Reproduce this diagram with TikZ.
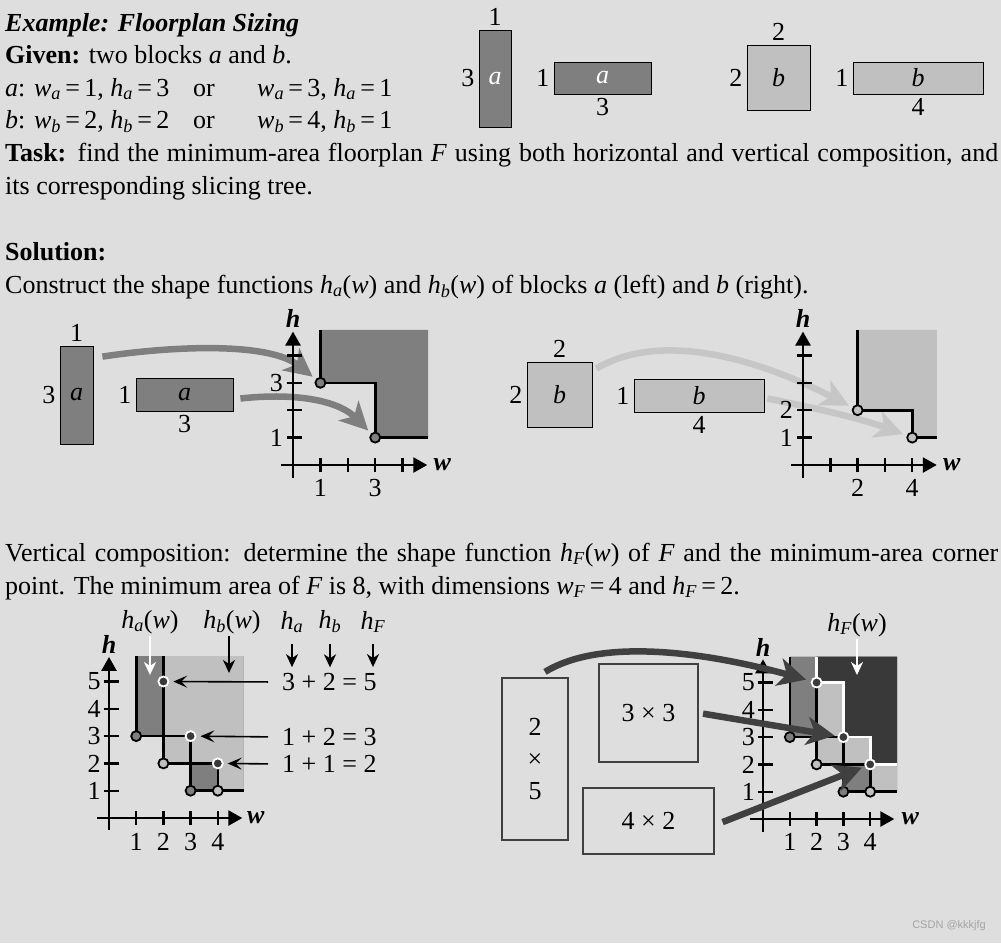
\documentclass[tikz,border=0pt]{standalone}
\usepackage{fontspec}
\setmainfont{Liberation Serif}
\newfontfamily\wmfont{Liberation Sans}
\usepackage{tikz}
\usetikzlibrary{arrows.meta,positioning,calc}
\pgfdeclarelayer{paper}
\pgfdeclarelayer{under}
\pgfsetlayers{paper,under,main}
\definecolor{bgpage}{HTML}{DEDEDE}
\definecolor{agray}{HTML}{7F7F7F}
\definecolor{bgray}{HTML}{C0C0C0}
\definecolor{fgray}{HTML}{393939}
\definecolor{ink}{HTML}{404040}
\definecolor{lgarr}{HTML}{C6C6C6}
\definecolor{wmgray}{HTML}{A4A4A4}
\newcommand{\vsub}[2]{\textit{#1}\textsubscript{\textit{#2}}}
\newcommand{\eqs}{\,=\,}

\begin{document}
\begin{tikzpicture}[x=1pt, y=-1pt, font=\fontsize{26pt}{33pt}\selectfont,
  txt/.style={anchor=base west, inner sep=0pt},
  blk/.style={draw=black, line width=0.8pt, inner sep=0pt, font=\fontsize{26pt}{33pt}\selectfont\itshape},
  blka/.style={blk, fill=agray},
  blkb/.style={blk, fill=bgray},
  every label/.style={inner sep=3pt, font=\fontsize{26pt}{33pt}\selectfont},
  label distance=1pt,
  ax/.style={line width=2.6pt, -{Triangle[length=14pt,width=15pt]}},
  axl/.style={inner sep=0pt, font=\fontsize{26pt}{33pt}\selectfont\bfseries\itshape},
  tk/.style={line width=2.4pt},
  tl/.style={inner sep=0pt},
  stair/.style={line width=2.6pt},
  crn/.style={circle, draw=black, line width=1.8pt, minimum size=10pt, inner sep=0pt},
  fcrn/.style={crn, draw=white, fill=fgray},
  garr/.style={line width=6.5pt, -{Stealth[length=28pt,width=28pt,inset=8pt]}},
  earr/.style={line width=1.6pt, -{Stealth[length=14pt,width=12pt,inset=6pt]}},
  varr/.style={line width=2.2pt, -{Stealth[length=13pt,width=12pt,inset=4pt]}},
  hlab/.style={inner sep=2pt},
  sizebox/.style={draw=ink, line width=2.2pt, inner sep=0pt, align=center}]

  \begin{pgfonlayer}{paper}
    \fill[bgpage] (0,0) rectangle (1001,943);
  \end{pgfonlayer}
  \useasboundingbox (0,0) rectangle (1001,943);

  % problem statement
  \node[txt] (title) at (5,31) {\textbf{\textit{Example: Floorplan Sizing}}};
  \node[txt] (given) at (5,63) {\textbf{Given:} two blocks \textit{a} and \textit{b}.};
  \node[txt] (ga1) at (5,96) {\textit{a}: \vsub{w}{a}\eqs 1, \vsub{h}{a}\eqs 3};
  \node[txt] (ga2) at (193,96) {or};
  \node[txt] (ga3) at (257,96) {\vsub{w}{a}\eqs 3, \vsub{h}{a}\eqs 1};
  \node[txt] (gb1) at (5,128) {\textit{b}: \vsub{w}{b}\eqs 2, \vsub{h}{b}\eqs 2};
  \node[txt] (gb2) at (193,128) {or};
  \node[txt] (gb3) at (257,128) {\vsub{w}{b}\eqs 4, \vsub{h}{b}\eqs 1};
  \node[txt] (task1) at (5,161) {\makebox[993pt][s]{\textbf{Task:} find the minimum-area floorplan \textit{F} using both horizontal and vertical composition, and}};
  \node[txt] (task2) at (5,194) {its corresponding slicing tree.};
  \node[txt] (sol) at (5,260) {\textbf{Solution:}};
  \node[txt] (cons) at (5,293) {Construct the shape functions \vsub{h}{a}(\textit{w}) and \vsub{h}{b}(\textit{w}) of blocks \textit{a} (left) and \textit{b} (right).};
  \node[txt] (vert1) at (5,561) {\makebox[993pt][s]{Vertical composition: determine the shape function \vsub{h}{F}(\textit{w}) of \textit{F} and the minimum-area corner}};
  \node[txt] (vert2) at (5,594) {point. The minimum area of \textit{F} is 8, with dimensions \vsub{w}{F}\eqs 4 and \vsub{h}{F}\eqs 2.};

  % given blocks
  \node[blka, text=white, minimum width=32pt, minimum height=97pt, label=above:1, label=left:3] (ta1) at (495,78.5) {a};
  \node[blka, text=white, minimum width=97pt, minimum height=32pt, label=left:1, label=below:3] (ta2) at (602.5,78) {a};
  \node[blkb, minimum width=63pt, minimum height=65pt, label=above:2, label=left:2] (tb1) at (778.5,77.5) {b};
  \node[blkb, minimum width=130pt, minimum height=32pt, label=left:1, label=below:4] (tb2) at (918,78) {b};

  % shape function of a
  \node[blka, minimum width=33pt, minimum height=98pt, label=above:1, label=left:3] (ma1) at (76.5,395) {a};
  \node[blka, minimum width=97pt, minimum height=33pt, label=left:1, label=below:3] (ma2) at (184.5,394.5) {a};
  \begin{scope}[shift={(293,465)}, x=27.4pt, y=27.4pt]
    \fill[agray] (1,4.93) -- (1,3) -- (3,3) -- (3,1) -- (4.93,1) -- (4.93,4.93) -- cycle;
    \draw[ax] (0,-0.47) -- (0,4.87);
    \draw[ax] (-0.44,0) -- (4.9,0);
    \node[axl] (ha) at (0,5.35) {h};
    \node[axl] (wa) at (5.45,0) {w};
    \foreach \t in {1,...,4} {
      \draw[tk] (-0.22,\t) -- (0.33,\t);
      \draw[tk] (\t,-0.27) -- (\t,0.27);
    }
    \node[tl, anchor=east] at (-0.36,3) {3};
    \node[tl, anchor=east] at (-0.36,1) {1};
    \node[tl] at (1,-0.85) {1};
    \node[tl] at (3,-0.85) {3};
    \draw[stair] (1,4.93) -- (1,3) -- (3,3) -- (3,1) -- (4.93,1);
    \node[crn, fill=agray] (pa13) at (1,3) {};
    \node[crn, fill=agray] (pa31) at (3,1) {};
  \end{scope}
  \begin{pgfonlayer}{under}
    \draw[garr, agray, shorten >=4pt] ([xshift=9pt,yshift=-11pt]ma1.north east) .. controls (180,345) and (270,343) .. (pa13);
    \draw[garr, agray, shorten >=4pt] ([xshift=7pt,yshift=-4pt]ma2.east) .. controls (300,392) and (340,402) .. (pa31);
  \end{pgfonlayer}

  % shape function of b
  \node[blkb, minimum width=65pt, minimum height=65pt, label=above:2, label=left:2] (mb1) at (559.5,394.5) {b};
  \node[blkb, minimum width=130pt, minimum height=33pt, label=left:1, label=below:4] (mb2) at (699,395.5) {b};
  \begin{scope}[shift={(803,465)}, x=27.3pt, y=27.4pt]
    \fill[bgray] (2,4.93) -- (2,2) -- (4,2) -- (4,1) -- (4.9,1) -- (4.9,4.93) -- cycle;
    \draw[ax] (0,-0.47) -- (0,4.87);
    \draw[ax] (-0.44,0) -- (4.9,0);
    \node[axl] (hb) at (0,5.35) {h};
    \node[axl] (wb) at (5.45,0) {w};
    \foreach \t in {1,...,4} {
      \draw[tk] (-0.22,\t) -- (0.33,\t);
      \draw[tk] (\t,-0.27) -- (\t,0.27);
    }
    \node[tl, anchor=east] at (-0.36,2) {2};
    \node[tl, anchor=east] at (-0.36,1) {1};
    \node[tl] at (2,-0.85) {2};
    \node[tl] at (4,-0.85) {4};
    \draw[stair] (2,4.93) -- (2,2) -- (4,2) -- (4,1) -- (4.9,1);
    \node[crn, fill=bgray] (pb22) at (2,2) {};
    \node[crn, fill=bgray] (pb41) at (4,1) {};
  \end{scope}
  \begin{pgfonlayer}{under}
    \draw[garr, lgarr, shorten >=4pt] ([xshift=4pt,yshift=-7pt]mb1.north east) .. controls (670,325) and (780,370) .. (pb22);
    \draw[garr, lgarr, shorten >=4pt] ([xshift=3pt,yshift=-3pt]mb2.east) .. controls (810,407) and (860,418) .. (pb41);
  \end{pgfonlayer}

  % vertical composition, adding the curves
  \begin{scope}[shift={(109,818)}, x=27.2pt, y=27.3pt]
    \fill[agray] (1,5.93) -- (1,3) -- (3,3) -- (3,1) -- (4.95,1) -- (4.95,5.93) -- cycle;
    \fill[bgray] (2,5.93) -- (2,2) -- (4,2) -- (4,1) -- (4.95,1) -- (4.95,5.93) -- cycle;
    \draw[ax] (0,-0.44) -- (0,5.9);
    \draw[ax] (-0.44,0) -- (4.9,0);
    \node[axl] (hc) at (0,6.35) {h};
    \node[axl] (wc) at (5.4,0) {w};
    \foreach \t in {1,...,5} {
      \draw[tk] (-0.2,\t) -- (0.38,\t);
      \node[tl, anchor=east] at (-0.3,\t) {\t};
    }
    \foreach \t in {1,...,4} {
      \draw[tk] (\t,-0.24) -- (\t,0.24);
      \node[tl] at (\t,-0.88) {\t};
    }
    \draw[stair] (1,5.93) -- (1,3) -- (3,3) -- (3,1) -- (4.95,1);
    \draw[stair] (2,5.93) -- (2,2) -- (4,2) -- (4,1) -- (4.95,1);
    \node[crn, fill=agray] (qa13) at (1,3) {};
    \node[crn, fill=agray] (qa31) at (3,1) {};
    \node[crn, fill=bgray] (qb22) at (2,2) {};
    \node[crn, fill=bgray] (qb41) at (4,1) {};
    \node[fcrn] (qf25) at (2,5) {};
    \node[fcrn] (qf33) at (3,3) {};
    \node[fcrn] (qf42) at (4,2) {};
  \end{scope}
  \node[hlab] (lha) at (150,622) {\vsub{h}{a}(\textit{w})};
  \node[hlab] (lhb) at (232,622) {\vsub{h}{b}(\textit{w})};
  \coordinate (qha) at (150,675);
  \coordinate (qhb) at (229,673);
  \draw[varr, white] (lha) -- (qha);
  \draw[varr] (lhb.south -| qhb) -- (qhb);
  \node[hlab] (sha) at (292,622) {\vsub{h}{a}};
  \node[hlab] (shb) at (330,622) {\vsub{h}{b}};
  \node[hlab] (shf) at (373,622) {\vsub{h}{F}};
  \draw[varr] ([yshift=-9pt]sha.south) -- ++(0,23);
  \draw[varr] ([yshift=-9pt]shb.south) -- ++(0,23);
  \draw[varr] ([yshift=-9pt]shf.south) -- ++(0,23);
  \node[tl, anchor=west] (e5) at (282,682) {3 + 2 = 5};
  \node[tl, anchor=west] (e3) at (282,737) {1 + 2 = 3};
  \node[tl, anchor=west] (e2) at (282,764) {1 + 1 = 2};
  \draw[earr, shorten <=14pt, shorten >=4pt] (e5.west) -- (qf25);
  \draw[earr, shorten <=14pt, shorten >=4pt] (e3.west) -- (qf33);
  \draw[earr, shorten <=14pt, shorten >=4pt] (e2.west) -- (qf42);

  % resulting floorplans and h_F(w)
  \node[sizebox, minimum width=66pt, minimum height=162pt] (f25) at (535,759) {2\\[-1pt]×\\[-1pt]5};
  \node[sizebox, minimum width=99pt, minimum height=98pt] (f33) at (648.5,713) {3 × 3};
  \node[sizebox, minimum width=131pt, minimum height=66pt] (f42) at (648.5,821) {4 × 2};
  \begin{scope}[shift={(763,819)}, x=26.8pt, y=27.3pt]
    \fill[agray] (1,5.95) -- (1,3) -- (3,3) -- (3,1) -- (5,1) -- (5,5.95) -- cycle;
    \fill[bgray] (2,5.95) -- (2,2) -- (4,2) -- (4,1) -- (5,1) -- (5,5.95) -- cycle;
    \fill[fgray] (2,5.95) -- (2,5) -- (3,5) -- (3,3) -- (4,3) -- (4,2) -- (5,2) -- (5,5.95) -- cycle;
    \draw[ax] (0,-0.48) -- (0,5.85);
    \draw[ax] (-0.48,0) -- (4.9,0);
    \node[axl] (hd) at (0,6.3) {h};
    \node[axl] (wd) at (5.5,0) {w};
    \foreach \t in {1,...,5} {
      \draw[tk] (-0.2,\t) -- (0.38,\t);
      \node[tl, anchor=east] at (-0.3,\t) {\t};
    }
    \foreach \t in {1,...,4} {
      \draw[tk] (\t,-0.24) -- (\t,0.24);
      \node[tl] at (\t,-0.85) {\t};
    }
    \draw[stair] (1,5.95) -- (1,3) -- (3,3) -- (3,1) -- (5,1);
    \draw[stair] (2,5.95) -- (2,2) -- (4,2) -- (4,1) -- (5,1);
    \draw[stair, white] (2,5.95) -- (2,5) -- (3,5) -- (3,3) -- (4,3) -- (4,2) -- (5,2);
    \node[crn, fill=agray] (ra13) at (1,3) {};
    \node[crn, fill=agray] (ra31) at (3,1) {};
    \node[crn, fill=bgray] (rb22) at (2,2) {};
    \node[crn, fill=bgray] (rb41) at (4,1) {};
    \node[fcrn] (rf25) at (2,5) {};
    \node[fcrn] (rf33) at (3,3) {};
    \node[fcrn] (rf42) at (4,2) {};
  \end{scope}
  \node[hlab] (lhf) at (857,625) {\vsub{h}{F}(\textit{w})};
  \coordinate (qhf) at (857,675);
  \draw[varr, white] (lhf) -- (qhf);
  \draw[garr, ink, shorten >=5pt] ([xshift=10pt,yshift=5pt]f25.north) .. controls (610,632) and (735,660) .. (rf25);
  \draw[garr, ink, shorten <=4pt, shorten >=3pt] (f33.east) -- (rf33);
  \draw[garr, ink, shorten <=8pt, shorten >=3pt] ([yshift=-4pt]f42.east) -- (rf42);

  \node[anchor=east, inner sep=0pt, font=\wmfont\fontsize{11pt}{13pt}\selectfont, text=wmgray] (wm) at (986,926) {CSDN @kkkjfg};
\end{tikzpicture}
\end{document}
